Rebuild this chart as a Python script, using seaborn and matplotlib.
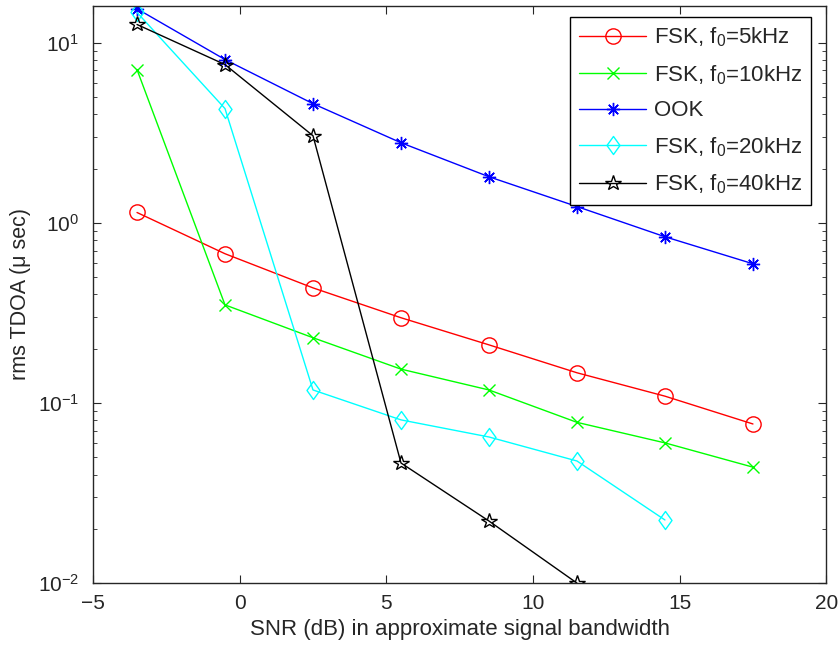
import numpy as np
import pandas as pd
import matplotlib
matplotlib.use('Agg')
import matplotlib.pyplot as plt
from matplotlib.path import Path
import seaborn as sns

snr = [-3.5, -0.5, 2.5, 5.5, 8.5, 11.5, 14.5, 17.5]
fsk_5k = [1.14, 0.673, 0.435, 0.297, 0.21, 0.147, 0.109, 0.0764]
fsk_10k = [7.08, 0.35, 0.23, 0.154, 0.118, 0.078, 0.06, 0.044]
ook = [15.4, 8.05, 4.58, 2.78, 1.80, 1.23, 0.836, 0.592]
fsk_20k = [14.7, 4.3, 0.118, 0.0805, 0.0647, 0.0476, 0.0224]
fsk_40k = [12.6, 7.55, 3.04, 0.0464, 0.0221, 0.01]

# matlab-ish tall diamond
diamond = Path([(0, 1), (0.72, 0), (0, -1), (-0.72, 0), (0, 1)],
               [Path.MOVETO, Path.LINETO, Path.LINETO, Path.LINETO, Path.CLOSEPOLY])

series = [
    ('FSK, f$_0$=5kHz', fsk_5k, (1, 0, 0), 'o', 11),
    ('FSK, f$_0$=10kHz', fsk_10k, (0, 1, 0), 'x', 8),
    ('OOK', ook, (0, 0, 1), (8, 2, 0), 9.5),
    ('FSK, f$_0$=20kHz', fsk_20k, (0, 1, 1), diamond, 13),
    ('FSK, f$_0$=40kHz', fsk_40k, (0, 0, 0), '*', 11.5),
]

sns.set_style('ticks')
plt.rcParams['font.family'] = ['Liberation Sans', 'DejaVu Sans']
plt.rcParams['mathtext.fontset'] = 'custom'
plt.rcParams['mathtext.rm'] = 'Liberation Sans'
plt.rcParams['mathtext.it'] = 'Liberation Sans'

fig = plt.figure(figsize=(8.38, 6.45), dpi=100)
ax = fig.add_axes([0.111, 0.096, 0.875, 0.895])

for name, vals, col, mk, ms in series:
    df = pd.DataFrame({'snr': snr[:len(vals)], 'tdoa': vals})
    sns.lineplot(data=df, x='snr', y='tdoa', ax=ax, color=col, marker=mk,
                 markersize=ms, markerfacecolor='none', markeredgecolor=col,
                 markeredgewidth=1.0, linewidth=1.0, label=name)

ax.set_yscale('log')
ax.set_xlim(-5, 20)
ax.set_ylim(0.01, 16)
ax.set_xticks([-5, 0, 5, 10, 15, 20])
ax.set_xticklabels(['\u22125', '0', '5', '10', '15', '20'])
ax.tick_params(which='both', direction='in', top=True, right=True, labelsize=15)
ax.tick_params(which='major', length=6)
ax.tick_params(which='minor', length=3)
ax.tick_params(axis='x', which='both', pad=8)
ax.tick_params(axis='y', which='both', pad=10)
for s in ax.spines.values():
    s.set_linewidth(1.0)
ax.set_xlabel('SNR (dB) in approximate signal bandwidth', fontsize=16, labelpad=4)
ax.set_ylabel('rms TDOA (\u03bc sec)', fontsize=15.5, labelpad=5)

leg = ax.legend(loc='upper right', bbox_to_anchor=(0.979, 0.981), fontsize=16,
                frameon=True, fancybox=False, edgecolor='black', framealpha=1,
                handlelength=3.0, handletextpad=0.35, borderpad=0.4,
                labelspacing=0.62, borderaxespad=0)
leg.get_frame().set_linewidth(1.0)

fig.savefig('out.png', dpi=100)
